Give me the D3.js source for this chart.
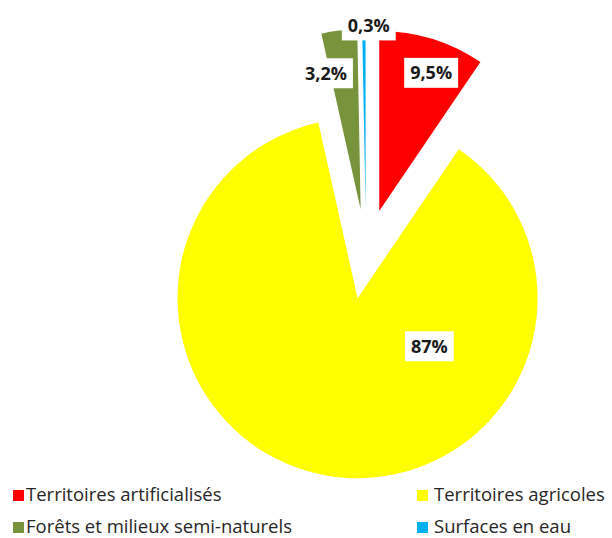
<!DOCTYPE html>
<html>
<head>
<meta charset="utf-8">
<script src="https://cdn.jsdelivr.net/npm/d3@7"></script>
<style>
  body { margin: 0; background: #fff; }
  svg { display: block; font-family: "Open Sans", sans-serif; }
</style>
</head>
<body>
<svg id="chart" width="612" height="538"></svg>
<script>
const categories = [
  "Territoires artificialisés",
  "Territoires agricoles",
  "Forêts et milieux semi-naturels",
  "Surfaces en eau",
];
const values = [9.5, 87, 3.2, 0.3];
const valueLabels = ["9,5%", "87%", "3,2%", "0,3%"];
const colors = ["#ff0000", "#ffff00", "#77933c", "#00b0f0"];

const center = { x: 366, y: 254 };
const radius = 180;
const explode = 45;
// label anchor: angle (deg, clockwise from top) and distance (x radius) from the slice's own centre
const labelLayout = [
  { angle: 20.6, dist: 0.82 },
  { angle: 123.8, dist: 0.48 },
  { angle: 345.7, dist: 0.78 },
  { angle: 1, dist: 1.02 },
];

const svg = d3.select("#chart");
const pieData = d3.pie().sort(null).value((d) => d)(values);
const arc = d3.arc().innerRadius(0).outerRadius(radius);

const polar = (angle, dist) => [Math.sin(angle) * dist, -Math.cos(angle) * dist];
const sliceCenter = (d) => {
  const mid = (d.startAngle + d.endAngle) / 2;
  const [dx, dy] = polar(mid, explode);
  return [center.x + dx, center.y + dy];
};

const slices = svg.append("g").attr("class", "slices");
slices
  .selectAll("path")
  .data(pieData)
  .join("path")
  .attr("transform", (d) => `translate(${sliceCenter(d)})`)
  .attr("d", arc)
  .attr("fill", (d, i) => colors[i]);

const labels = svg.append("g").attr("class", "labels");
pieData.forEach((d, i) => {
  const [cx, cy] = sliceCenter(d);
  const lay = labelLayout[i];
  const [dx, dy] = polar((lay.angle * Math.PI) / 180, lay.dist * radius);
  const g = labels.append("g").attr("transform", `translate(${cx + dx},${cy + dy})`);
  const rect = g.append("rect").attr("fill", "#fff");
  const text = g
    .append("text")
    .attr("text-anchor", "middle")
    .attr("dy", "0.35em")
    .attr("font-size", 18)
    .attr("font-weight", "bold")
    .attr("fill", "#1a1a1a")
    .text(valueLabels[i]);
  const w = text.node().getComputedTextLength();
  rect
    .attr("x", -w / 2 - 6)
    .attr("y", -15)
    .attr("width", w + 12)
    .attr("height", 30);
});

// legend, two columns
const legendCols = [
  { sq: 13, tx: 26 },
  { sq: 417, tx: 434 },
];
const legendRows = [501, 533];
const legend = svg.append("g").attr("class", "legend");
categories.forEach((c, i) => {
  const col = legendCols[i % 2];
  const base = legendRows[Math.floor(i / 2)];
  legend
    .append("rect")
    .attr("x", col.sq)
    .attr("y", base - 11)
    .attr("width", 11)
    .attr("height", 11)
    .attr("fill", colors[i]);
  legend
    .append("text")
    .attr("x", col.tx)
    .attr("y", base)
    .attr("font-size", 18.5)
    .attr("fill", "#262626")
    .text(c);
});
</script>
</body>
</html>
